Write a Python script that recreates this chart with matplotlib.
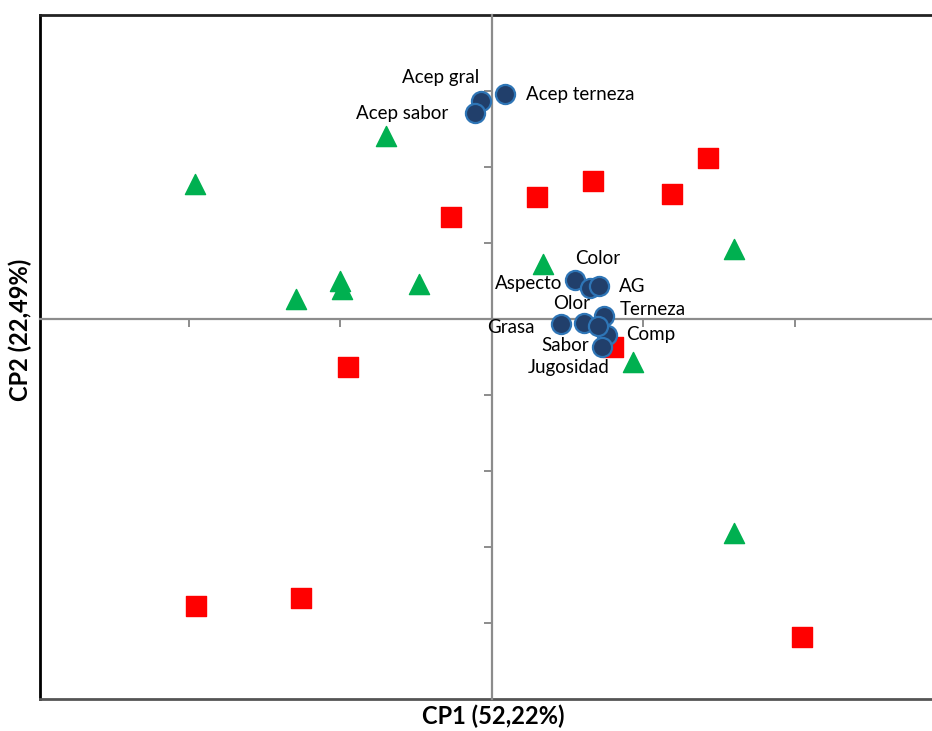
import numpy as np
import matplotlib
matplotlib.use('Agg')
import matplotlib.pyplot as plt

plt.rcParams['font.family'] = ['Lato', 'DejaVu Sans']

# muestras (cuadrados rojos)
red_x = [-0.27, 0.30, 0.67, 1.19, 1.43, -0.95, 0.80, -1.95, -1.26, 2.05]
red_y = [1.34, 1.61, 1.82, 1.64, 2.12, -0.63, -0.37, -3.78, -3.67, -4.18]

# muestras (triangulos verdes)
green_x = [-1.96, -0.70, -1.29, -1.00, -0.99, -0.48, 0.34, 1.60, 0.93, 1.60]
green_y = [1.78, 2.41, 0.26, 0.50, 0.39, 0.46, 0.72, 0.92, -0.57, -2.82]

# variables
var_names = ['Acep gral', 'Acep sabor', 'Acep terneza', 'Aspecto', 'Color', 'AG',
             'Olor', 'Grasa', 'Terneza', 'Comp', 'Sabor', 'Jugosidad']
var_x = [-0.07, -0.11, 0.09, 0.55, 0.65, 0.71, 0.61, 0.46, 0.74, 0.76, 0.70, 0.73]
var_y = [2.87, 2.71, 2.96, 0.51, 0.41, 0.43, -0.05, -0.07, 0.04, -0.21, -0.09, -0.37]
# desplazamiento de etiquetas (puntos)
lab_off = [(-1.5, 17), (-19, 0), (15, 0), (-9, -2), (-11, 21), (14, 0),
           (4, 14), (-19, -2), (11.5, 5), (14, 0), (-6, -14), (-24, -15)]
lab_ha = ['right', 'right', 'left', 'right', 'left', 'left',
          'right', 'right', 'left', 'left', 'right', 'center']

fig = plt.figure(figsize=(9.32, 7.31), dpi=100)
rect = [40 / 932, 32 / 731, 892 / 932, 684 / 731]

# marco
frame = fig.add_axes(rect)
frame.set_xticks([])
frame.set_yticks([])
frame.spines['right'].set_visible(False)
frame.spines['left'].set_color('black')
frame.spines['left'].set_linewidth(2)
frame.spines['top'].set_color('#222222')
frame.spines['top'].set_linewidth(2)
frame.spines['bottom'].set_color('#555555')
frame.spines['bottom'].set_linewidth(2)
frame.set_xlabel('CP1 (52,22%)', fontsize=17, fontweight='bold', labelpad=4,
                 x=(493 - 40) / 892)
frame.set_ylabel('CP2 (22,49%)', fontsize=17, fontweight='bold', labelpad=6,
                 y=(699 - 330) / 684)

ax = fig.add_axes(rect, facecolor='none')
ax.set_xlim(-2.98, 2.905)
ax.set_ylim(-5, 4)
for s in ['top', 'right']:
    ax.spines[s].set_visible(False)
for s in ['left', 'bottom']:
    ax.spines[s].set_position(('data', 0))
    ax.spines[s].set_color('#8c8c8c')
    ax.spines[s].set_linewidth(1.6)
ax.set_xticks([-2, -1, 1, 2])
ax.set_yticks([-4, -3, -2, -1, 1, 2, 3])
ax.tick_params(length=6, width=1.4, color='#8c8c8c', labelbottom=False, labelleft=False)

ax.scatter(red_x, red_y, marker='s', s=190, color='#ff0000', zorder=3)
ax.scatter(green_x, green_y, marker='^', s=210, color='#00b050', zorder=3)
ax.scatter(var_x, var_y, marker='o', s=190, facecolor='#213f6b', edgecolor='#2e75b6',
           linewidth=1.6, zorder=4)

for name, x, y, off, ha in zip(var_names, var_x, var_y, lab_off, lab_ha):
    ax.annotate(name, (x, y), xytext=off, textcoords='offset points',
                ha=ha, va='center', fontsize=13.5, color='black', zorder=5)

fig.savefig('out.png', dpi=100)
